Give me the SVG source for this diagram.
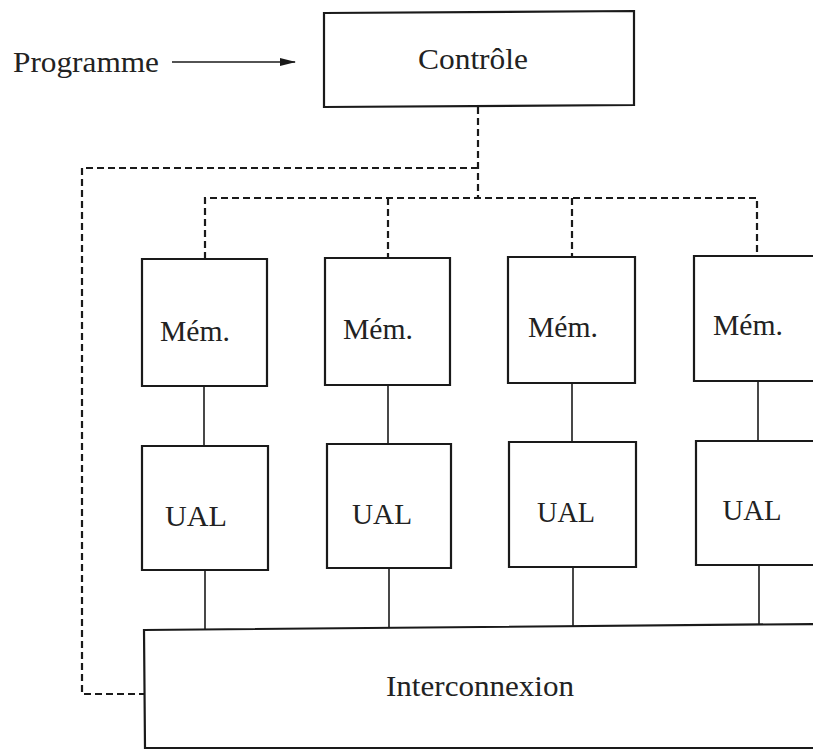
<svg xmlns="http://www.w3.org/2000/svg" width="813" height="751" viewBox="0 0 813 751">
<defs>
<style>
.box{fill:#fff;stroke:#1a1a1a;stroke-width:2.2}
.lbl{font-size:29px;fill:#222;text-anchor:middle}
.solid{fill:none;stroke:#1a1a1a;stroke-width:1.6}
.dash{fill:none;stroke:#1a1a1a;stroke-width:2.2;stroke-dasharray:7 4}
</style>
<marker id="arr" markerWidth="16" markerHeight="10" refX="15" refY="5" orient="auto" markerUnits="userSpaceOnUse">
<path d="M0,1 L16,5 L0,9 Z" fill="#1a1a1a"/>
</marker>
</defs>
<rect width="813" height="751" fill="#fff"/>
<g id="connectors">
<line class="solid" x1="172" y1="62" x2="295" y2="62" stroke-width="2" marker-end="url(#arr)"/>
<path class="dash" d="M478,107 V198"/>
<path class="dash" d="M478,168 H82 V694 H144"/>
<path class="dash" d="M205,259 V198 H757 V256"/>
<path class="dash" d="M388,198 V258"/>
<path class="dash" d="M572,198 V257"/>
<line class="solid" x1="204" y1="386" x2="204" y2="446"/>
<line class="solid" x1="388" y1="385" x2="388" y2="444"/>
<line class="solid" x1="572" y1="383" x2="572" y2="442"/>
<line class="solid" x1="758" y1="381" x2="758" y2="441"/>
<line class="solid" x1="205" y1="570" x2="205" y2="630"/>
<line class="solid" x1="389" y1="568" x2="389" y2="628"/>
<line class="solid" x1="573" y1="567" x2="573" y2="627"/>
<line class="solid" x1="759" y1="565" x2="759" y2="625"/>
</g>
<g font-family="'Liberation Serif', 'DejaVu Serif', serif">
<g id="programme">
<text class="lbl" x="86" y="72" textLength="146" lengthAdjust="spacingAndGlyphs">Programme</text>
</g>
<g id="controle">
<path class="box" d="M324,13 L634,11 L634,105 L324,107 Z"/>
<text class="lbl" x="473" y="69" textLength="110" lengthAdjust="spacingAndGlyphs">Contrôle</text>
</g>
<g id="mem1">
<path class="box" d="M142,259 L267,259 L267,386 L142,386 Z"/>
<text class="lbl" x="195" y="341" textLength="70" lengthAdjust="spacingAndGlyphs">Mém.</text>
</g>
<g id="ual1">
<path class="box" d="M142,446 L268,446 L268,570 L142,570 Z"/>
<text class="lbl" x="196" y="526" textLength="62" lengthAdjust="spacingAndGlyphs">UAL</text>
</g>
<g id="mem2">
<path class="box" d="M325,258 L450,258 L450,385 L325,385 Z"/>
<text class="lbl" x="378" y="339" textLength="70" lengthAdjust="spacingAndGlyphs">Mém.</text>
</g>
<g id="ual2">
<path class="box" d="M327,444 L451,444 L451,568 L327,568 Z"/>
<text class="lbl" x="382" y="524" textLength="60" lengthAdjust="spacingAndGlyphs">UAL</text>
</g>
<g id="mem3">
<path class="box" d="M508,257 L635,257 L635,383 L508,383 Z"/>
<text class="lbl" x="563" y="337" textLength="70" lengthAdjust="spacingAndGlyphs">Mém.</text>
</g>
<g id="ual3">
<path class="box" d="M509,442 L636,442 L636,567 L509,567 Z"/>
<text class="lbl" x="566" y="522" textLength="58" lengthAdjust="spacingAndGlyphs">UAL</text>
</g>
<g id="mem4">
<path class="box" d="M694,256 L816,256 L816,381 L694,381 Z"/>
<text class="lbl" x="748" y="335" textLength="70" lengthAdjust="spacingAndGlyphs">Mém.</text>
</g>
<g id="ual4">
<path class="box" d="M696,441 L816,441 L816,565 L696,565 Z"/>
<text class="lbl" x="752" y="520" textLength="59" lengthAdjust="spacingAndGlyphs">UAL</text>
</g>
<g id="interconnexion">
<path class="box" d="M144,630 L816,624 L816,748 L145,748 Z"/>
<text class="lbl" x="480" y="696" textLength="188" lengthAdjust="spacingAndGlyphs">Interconnexion</text>
</g>
</g>
</svg>
